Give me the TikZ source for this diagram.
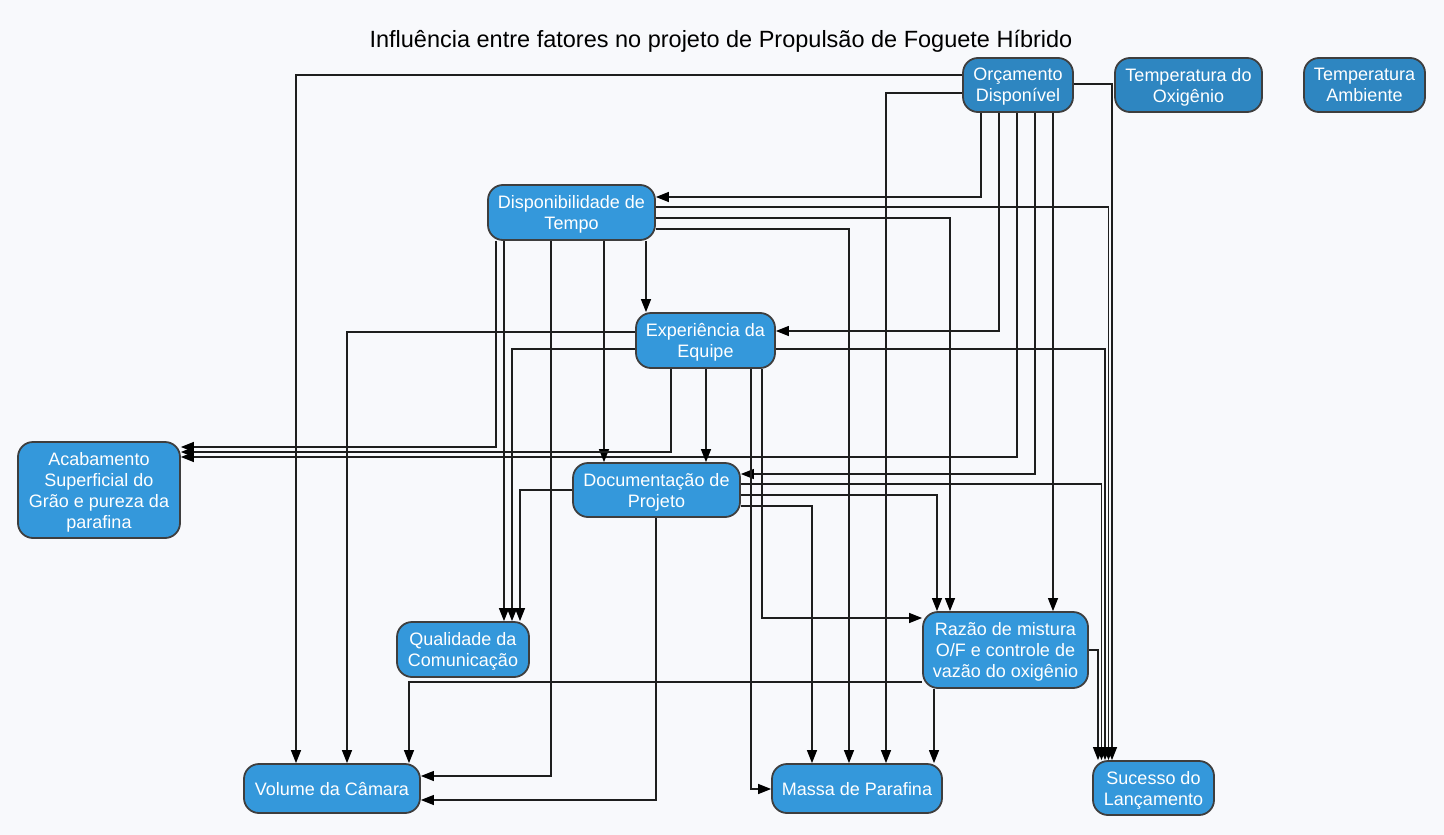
\documentclass[tikz,border=0pt]{standalone}
\usepackage{fontspec}
\setmainfont{Liberation Sans}
\usetikzlibrary{arrows.meta}
\definecolor{bg}{RGB}{248,249,252}
\definecolor{nodefill}{RGB}{52,152,219}
\definecolor{topfill}{RGB}{46,134,193}
\definecolor{nodeborder}{RGB}{62,62,62}
\definecolor{edgecol}{RGB}{30,30,30}
\begin{document}
\begin{tikzpicture}[x=1pt,y=-1pt,
  factor/.style={draw=nodeborder, line width=1.8pt, fill=nodefill, rounded corners=15pt,
    text=white, font=\fontsize{18}{21}\selectfont, align=center, inner sep=0pt, text depth=0pt},
  topfactor/.style={factor, fill=topfill},
  arr/.style={draw=edgecol, line width=1.2pt, -{Triangle[length=13pt,width=10pt,color=black]}}]
\fill[bg] (0,0) rectangle (1444,835);
\useasboundingbox (0,0) rectangle (1444,835);

\node[font=\fontsize{23.5}{28}\selectfont, text=black] (title) at (721,41)
  {Influência entre fatores no projeto de Propulsão de Foguete Híbrido};

\node[topfactor, minimum width=110pt, minimum height=54pt] (OD) at (1018,85) {Orçamento\\Disponível};
\node[topfactor, minimum width=147pt, minimum height=54pt] (TO) at (1188.5,85) {Temperatura do\\Oxigênio};
\node[topfactor, minimum width=121pt, minimum height=54pt] (TA) at (1364.5,85) {Temperatura\\Ambiente};
\node[factor, minimum width=167pt, minimum height=55pt] (DT) at (571.5,212.5) {Disponibilidade de\\Tempo};
\node[factor, minimum width=139pt, minimum height=55pt] (EE) at (705.5,340.5) {Experiência da\\Equipe};
\node[factor, minimum width=162pt, minimum height=96pt] (AS) at (99,490) {Acabamento\\Superficial do\\Grão e pureza da\\parafina};
\node[factor, minimum width=167pt, minimum height=54pt] (DP) at (656.5,490) {Documentação de\\Projeto};
\node[factor, minimum width=132pt, minimum height=55pt] (QC) at (463,649.5) {Qualidade da\\Comunicação};
\node[factor, minimum width=165pt, minimum height=76pt] (RM) at (1005.5,650) {Razão de mistura\\O/F e controle de\\vazão do oxigênio};
\node[factor, minimum width=176pt, minimum height=49pt] (VC) at (332,788.5) {Volume da Câmara};
\node[factor, minimum width=170pt, minimum height=49pt] (MP) at (857,788.5) {Massa de Parafina};
\node[factor, minimum width=121pt, minimum height=54pt] (SL) at (1153.5,788) {Sucesso do\\Lançamento};

% from Orçamento Disponível
\draw[arr] (OD.west |- 0,75) -| (VC.north -| 296,0);
\draw[arr] (OD.west |- 0,93) -| (MP.north -| 886,0);
\draw[arr] (OD.south -| 981,0) |- (DT.east |- 0,197);
\draw[arr] (OD.south -| 999,0) |- (EE.east |- 0,331);
\draw[arr] (OD.south -| 1017,0) |- (AS.east |- 0,457);
\draw[arr] (OD.south -| 1035,0) |- (DP.east |- 0,474);
\draw[arr] (OD.south -| 1053,0) -- (RM.north -| 1053,0);
\draw[arr] (OD.east |- 0,84) -| (SL.north -| 1112,0);

% from Disponibilidade de Tempo
\draw[arr] (DT.east |- 0,207) -| (SL.north -| 1108.5,0);
\draw[arr] (DT.east |- 0,218) -| (RM.north -| 950,0);
\draw[arr] (DT.east |- 0,229) -| (MP.north -| 849,0);
\draw[arr] (DT.south -| 646,0) -- (EE.north -| 646,0);
\draw[arr] (DT.south -| 604,0) -- (DP.north -| 604,0);
\draw[arr] (DT.south -| 551,0) |- (VC.east |- 0,776);
\draw[arr] (DT.south -| 496,0) |- (AS.east |- 0,447);
\draw[arr] (DT.south -| 504,0) -- (QC.north -| 504,0);

% from Experiência da Equipe
\draw[arr] (EE.west |- 0,332) -| (VC.north -| 347,0);
\draw[arr] (EE.west |- 0,349) -| (QC.north -| 512,0);
\draw[arr] (EE.east |- 0,349) -| (SL.north -| 1105,0);
\draw[arr] (EE.south -| 671,0) |- (AS.east |- 0,452);
\draw[arr] (EE.south -| 706,0) -- (DP.north -| 706,0);
\draw[arr] (EE.south -| 751,0) |- (MP.west |- 0,789);
\draw[arr] (EE.south -| 762,0) |- (RM.west |- 0,618);

% from Documentação de Projeto
\draw[arr] (DP.west |- 0,490) -| (QC.north -| 520,0);
\draw[arr] (DP.east |- 0,484) -| (SL.north -| 1101.5,0);
\draw[arr] (DP.east |- 0,495) -| (RM.north -| 937,0);
\draw[arr] (DP.east |- 0,506) -| (MP.north -| 812,0);
\draw[arr] (DP.south -| 656,0) |- (VC.east |- 0,800);

% from Razão de mistura
\draw[arr] (RM.west |- 0,682) -| (VC.north -| 409,0);
\draw[arr] (RM.south -| 934,0) -- (MP.north -| 934,0);
\draw[arr] (RM.east |- 0,650) -| (SL.north -| 1098,0);
\end{tikzpicture}
\end{document}
